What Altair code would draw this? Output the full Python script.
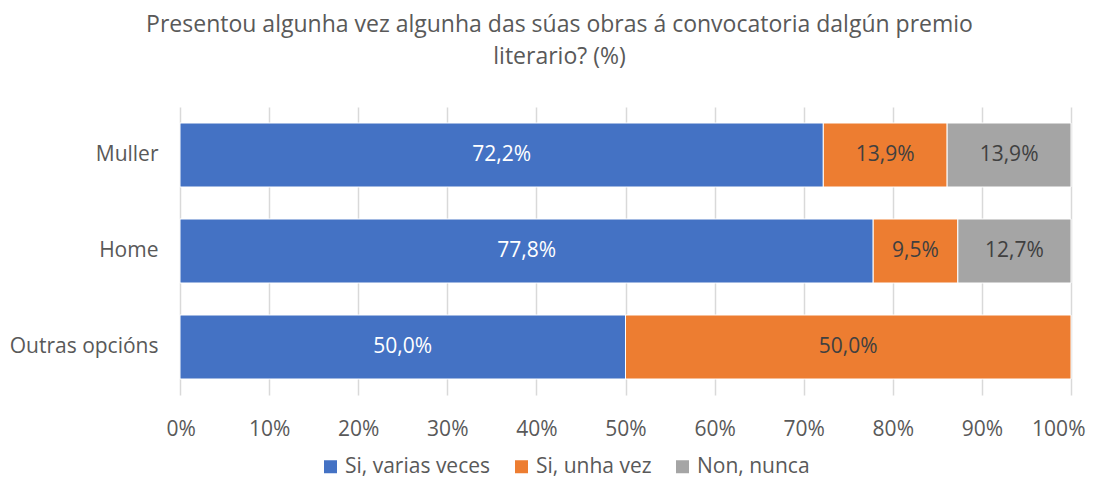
import altair as alt
import pandas as pd

categories = ["Muller", "Home", "Outras opcións"]
series = ["Si, varias veces", "Si, unha vez", "Non, nunca"]
colors = ["#4472C4", "#ED7D31", "#A5A5A5"]
si_varias = [72.2, 77.8, 50.0]
si_unha = [13.9, 9.5, 50.0]
non_nunca = [13.9, 12.7, 0.0]
x_ticks = [0, 10, 20, 30, 40, 50, 60, 70, 80, 90, 100]

rows = []
for i, cat in enumerate(categories):
    start = 0.0
    for s_i, (s, vals) in enumerate(zip(series, [si_varias, si_unha, non_nunca])):
        v = vals[i]
        if v > 0:
            rows.append({
                "cat": cat, "serie": s, "order": s_i, "value": v,
                "start": start, "end": start + v, "mid": start + v / 2,
                "label": f"{v:.1f}".replace(".", ",") + "%",
                "txtcol": "white" if s_i == 0 else "dark",
            })
        start += v
df = pd.DataFrame(rows)

FONT = "Open Sans"
TXT = "#595959"
FS = 21

base = alt.Chart(df)

bars = base.mark_bar(stroke="white", strokeWidth=1).encode(
    y=alt.Y("cat:N", sort=categories, title=None,
            scale=alt.Scale(paddingInner=1/3, paddingOuter=1/6),
            axis=alt.Axis(domain=False, ticks=False, labelPadding=22,
                          labelFontSize=FS, labelColor=TXT, labelFont=FONT)),
    x=alt.X("start:Q", title=None,
            scale=alt.Scale(domain=[0, 100], nice=False),
            axis=alt.Axis(values=x_ticks, labelExpr="datum.value + '%'",
                          domain=False, ticks=False, grid=True,
                          gridColor="#D9D9D9", gridWidth=1.5,
                          labelFlush=True, labelFlushOffset=14,
                          labelPadding=23, labelFontSize=FS,
                          labelColor=TXT, labelFont=FONT)),
    x2="end:Q",
    color=alt.Color("serie:N", sort=series,
                    scale=alt.Scale(domain=series, range=colors),
                    legend=alt.Legend(title=None, orient="none",
                                      direction="horizontal",
                                      legendX=140, legendY=349,
                                      symbolType="square", symbolSize=169,
                                      symbolStrokeWidth=0,
                                      labelFontSize=FS, labelColor=TXT,
                                      labelFont=FONT, columnPadding=20,
                                      labelOffset=4)),
)

labels = base.mark_text(fontSize=FS, font=FONT).encode(
    y=alt.Y("cat:N", sort=categories),
    x=alt.X("mid:Q"),
    text="label:N",
    color=alt.Color("txtcol:N", scale=alt.Scale(domain=["white", "dark"],
                                                range=["#FFFFFF", "#404040"]),
                    legend=None),
)

chart = alt.layer(bars, labels).resolve_scale(color="independent").properties(
    width=891, height=288,
    padding={"left": 172, "top": 99, "right": 20, "bottom": 85},
    autosize=alt.AutoSizeParams(type="none"),
    title=alt.TitleParams(
        ["Presentou algunha vez algunha das súas obras á convocatoria dalgún premio",
         "literario?  (%)"],
        anchor="middle", dx=-66, offset=38, fontSize=23, font=FONT,
        color=TXT, fontWeight="normal", lineHeight=32,
    ),
).configure_view(stroke=None)

chart.save("out.html", embed_options={"renderer": "svg", "actions": False})
